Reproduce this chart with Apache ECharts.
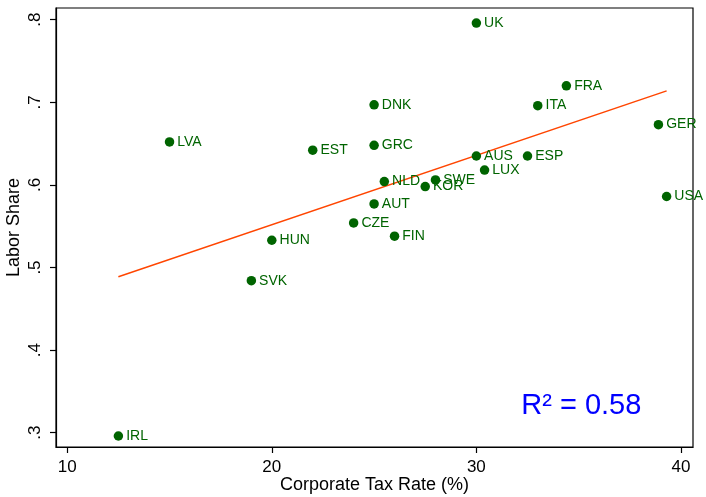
<!DOCTYPE html>
<html>
<head>
<meta charset="utf-8">
<script src="https://cdn.jsdelivr.net/npm/echarts@6/dist/echarts.min.js"></script>
<style>
  html, body { margin: 0; padding: 0; background: #fff; }
  #chart { width: 706px; height: 497px; }
</style>
</head>
<body>
<div id="chart"></div>
<script>
// Country codes, corporate tax rates (%) and labor shares
const countries = ['IRL', 'SVK', 'HUN', 'LVA', 'EST', 'DNK', 'GRC', 'NLD', 'SWE', 'KOR', 'AUT',
                   'CZE', 'FIN', 'UK', 'FRA', 'ITA', 'GER', 'AUS', 'ESP', 'LUX', 'USA'];
const taxRate = [12.5, 19, 20, 15, 22, 25, 25, 25.5, 28, 27.5, 25,
                 24, 26, 30, 34.4, 33, 38.9, 30, 32.5, 30.4, 39.3];
const laborShare = [0.296, 0.484, 0.533, 0.652, 0.642, 0.697, 0.648, 0.604, 0.606, 0.598, 0.577,
                    0.554, 0.538, 0.796, 0.720, 0.696, 0.673, 0.635, 0.635, 0.618, 0.586];
const xTicks = [10, 20, 30, 40];
const yTicks = [0.3, 0.4, 0.5, 0.6, 0.7, 0.8];
const fitNote = 'R\u00B2 = 0.58';

// Ordinary least squares line across the observed range of tax rates
const n = taxRate.length;
const mx = taxRate.reduce((a, b) => a + b, 0) / n;
const my = laborShare.reduce((a, b) => a + b, 0) / n;
let sxy = 0, sxx = 0;
for (let i = 0; i < n; i++) {
  sxy += (taxRate[i] - mx) * (laborShare[i] - my);
  sxx += (taxRate[i] - mx) * (taxRate[i] - mx);
}
const slope = sxy / sxx;
const intercept = my - slope * mx;
const xLo = Math.min(...taxRate), xHi = Math.max(...taxRate);
const fitLine = [[xLo, intercept + slope * xLo], [xHi, intercept + slope * xHi]];

const points = countries.map((c, i) => ({ name: c, value: [taxRate[i], laborShare[i]] }));

const FONT = 'Liberation Sans, Arial, Helvetica, sans-serif';
const GREEN = '#006400';

const chart = echarts.init(document.getElementById('chart'), null, { renderer: 'canvas' });
chart.setOption({
  animation: false,
  backgroundColor: '#fff',
  textStyle: { fontFamily: FONT },
  grid: {
    left: 56, top: 8, right: 13, bottom: 50,
    containLabel: false, outerBoundsMode: 'none',
    show: true, borderColor: '#000', borderWidth: 1.2, backgroundColor: 'transparent'
  },
  xAxis: {
    type: 'value',
    min: 9.45, max: 40.59,
    name: 'Corporate Tax Rate (%)',
    nameLocation: 'middle',
    nameGap: 29,
    nameMoveOverlap: false,
    nameTextStyle: { fontSize: 18, color: '#000', fontFamily: FONT },
    axisLine: { show: true, onZero: false, lineStyle: { color: '#000', width: 1.2 } },
    axisTick: { show: true, inside: false, length: 6, lineStyle: { color: '#000', width: 1.2 }, customValues: xTicks },
    axisLabel: { show: true, fontSize: 17, color: '#000', margin: 12, fontFamily: FONT, customValues: xTicks },
    splitLine: { show: false }
  },
  yAxis: {
    type: 'value',
    min: 0.2827, max: 0.8142,
    name: 'Labor Share',
    nameLocation: 'middle',
    nameGap: 33,
    nameRotate: 90,
    nameMoveOverlap: false,
    nameTextStyle: { fontSize: 18, color: '#000', fontFamily: FONT },
    axisLine: { show: true, onZero: false, lineStyle: { color: '#000', width: 1.2 } },
    axisTick: { show: true, inside: false, length: 6, lineStyle: { color: '#000', width: 1.2 }, customValues: yTicks },
    axisLabel: {
      show: true, fontSize: 17, color: '#000', margin: 12, rotate: 90, fontFamily: FONT,
      customValues: yTicks,
      formatter: v => String(Math.round(v * 10) / 10).replace(/^0/, '')
    },
    splitLine: { show: false }
  },
  series: [
    {
      type: 'line',
      data: fitLine,
      symbol: 'none',
      lineStyle: { color: '#ff4500', width: 1.5 },
      z: 2
    },
    {
      type: 'scatter',
      data: points,
      symbol: 'circle',
      symbolSize: 9.5,
      itemStyle: { color: GREEN, opacity: 1 },
      label: {
        show: true,
        position: 'right',
        distance: 3,
        formatter: p => p.name,
        color: GREEN,
        fontSize: 14,
        fontFamily: FONT
      },
      z: 3
    }
  ]
});

// Goodness-of-fit note in the lower right of the plot
const anchor = chart.convertToPixel({ gridIndex: 0 }, [35.13, 0.332]);
chart.setOption({
  graphic: [{
    type: 'text',
    x: anchor[0], y: anchor[1],
    style: { text: fitNote, fill: '#0000ff', fontSize: 29, fontFamily: FONT, align: 'center', verticalAlign: 'middle' },
    z: 10
  }]
});
</script>
</body>
</html>
